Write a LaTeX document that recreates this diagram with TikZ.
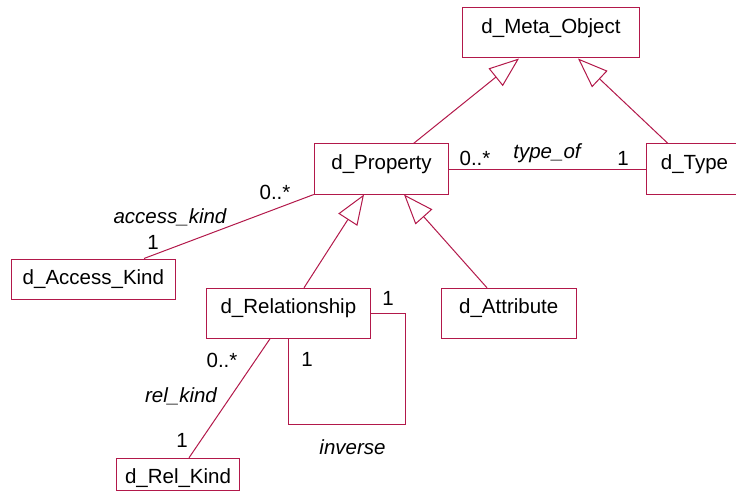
\documentclass[tikz,border=0pt]{standalone}
\usepackage{fontspec}
\setmainfont{Liberation Sans}
\usetikzlibrary{arrows.meta}
\definecolor{umlred}{RGB}{178,24,74}
\tikzset{
  cls/.style={draw=umlred, line width=1pt, rectangle, inner sep=0pt},
  clsname/.style={anchor=base, inner sep=0pt, font=\fontsize{20.5}{24}\selectfont},
  lbl/.style={inner sep=0pt, font=\fontsize{20.5}{24}\selectfont},
  ilbl/.style={lbl, font=\fontsize{20.5}{24}\selectfont\itshape},
  conn/.style={draw=umlred, line width=1pt},
  gen/.style={conn, -{Triangle[open, length=30pt, width=22.5pt, line width=1pt]}}
}
\begin{document}
\begin{tikzpicture}[x=1pt, y=-1pt]
\useasboundingbox (0,0) rectangle (736,492);
\clip (0,0) rectangle (736,492);

% classes
\node[cls, minimum width=176.6pt, minimum height=50pt] (meta) at (551,33) {};
\node[cls, minimum width=134.4pt, minimum height=50pt] (prop) at (381.5,169) {};
\node[cls, minimum width=97pt, minimum height=50pt] (type) at (694.5,169) {};
\node[cls, minimum width=164.7pt, minimum height=40pt] (access) at (93.4,279) {};
\node[cls, minimum width=164.7pt, minimum height=50pt] (rel) at (288.4,313.3) {};
\node[cls, minimum width=134.7pt, minimum height=50pt] (attr) at (508.7,313.3) {};
\node[cls, minimum width=122.6pt, minimum height=32.4pt] (relkind) at (178,474.5) {};

% class names
\node[clsname] (metaT) at ([yshift=-26.5pt]meta.north) {d\_Meta\_Object};
\node[clsname] (propT) at ([yshift=-26.3pt]prop.north) {d\_Property};
\node[clsname] (typeT) at ([yshift=-26.3pt]type.north) {d\_Type};
\node[clsname] (accessT) at ([yshift=-26pt]access.north) {d\_Access\_Kind};
\node[clsname] (relT) at ([yshift=-26pt]rel.north) {d\_Relationship};
\node[clsname] (attrT) at ([yshift=-26pt]attr.north) {d\_Attribute};
\node[clsname] (relkindT) at ([yshift=-25.5pt]relkind.north) {d\_Rel\_Kind};

% generalizations
\draw[gen] ([xshift=32pt]prop.north) -- ([xshift=-32pt]meta.south);
\draw[gen] ([xshift=-26.5pt]type.north) -- ([xshift=27pt]meta.south);
\draw[gen] ([xshift=15.6pt]rel.north) -- ([xshift=-17.5pt]prop.south);
\draw[gen] ([xshift=-21.7pt]attr.north) -- ([xshift=22.5pt]prop.south);

% associations
\draw[conn] (prop.east) -- (type.west);
\draw[conn] (prop.south west) -- ([xshift=50.6pt]access.north);
\draw[conn] ([xshift=-18.4pt]rel.south) -- ([xshift=11pt]relkind.north);
\coordinate (invCorner) at (405,424);
\draw[conn] (rel.east) -| (invCorner) -| (rel.south);

% association labels
\node[lbl] (tStar) at (475,158) {0..*};
\node[ilbl] (tName) at (547,153) {type\_of};
\node[lbl] (tOne) at (623,158) {1};

\node[lbl] (aStar) at (275,192) {0..*};
\node[ilbl] (aName) at (170,217) {access\_kind};
\node[lbl] (aOne) at (153,242) {1};

\node[lbl] (rStar) at (222,360) {0..*};
\node[ilbl] (rName) at (181,396) {rel\_kind};
\node[lbl] (rOne) at (182,440) {1};

\node[lbl] (iOneA) at (388,298) {1};
\node[lbl] (iOneB) at (307,359) {1};
\node[ilbl] (iName) at (352.5,447) {inverse};
\end{tikzpicture}
\end{document}
